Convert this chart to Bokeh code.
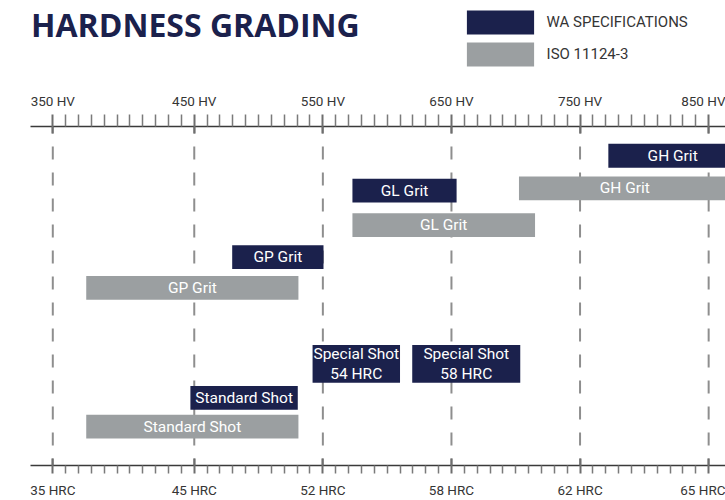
from bokeh.plotting import figure
from bokeh.models import (Range1d, LinearAxis, FixedTicker, Span, ColumnDataSource,
                          Legend, LegendItem)
from bokeh.layouts import column
from bokeh.core.properties import value
from bokeh.embed import file_html
from bokeh.resources import INLINE

# ---------------- data ----------------
title_text = "HARDNESS GRADING"
series_names = ["WA SPECIFICATIONS", "ISO 11124-3"]

# scale positions in minor divisions of the hardness scale
tick_pos = [0, 11, 21, 31, 41, 51]
hv_labels = ["350 HV", "450 HV", "550 HV", "650 HV", "750 HV", "850 HV"]
hrc_labels = ["35 HRC", "45 HRC", "52 HRC", "58 HRC", "62 HRC", "65 HRC"]
minor_pos = [i for i in range(1, 51) if i not in tick_pos]

wa_labels = ["GH Grit", "GL Grit", "GP Grit", "Special Shot\n54 HRC",
             "Special Shot\n58 HRC", "Standard Shot"]
wa_start = [43.2, 23.3, 13.95, 20.2, 27.95, 10.7]
wa_end = [53.2, 31.4, 21.05, 27.0, 36.35, 19.05]

iso_labels = ["GH Grit", "GL Grit", "GP Grit", "Standard Shot"]
iso_start = [36.25, 23.3, 2.6, 2.6]
iso_end = [52.7, 37.5, 19.1, 19.1]

# ---------------- layout (rows, px below the top scale) ----------------
wa_row = [29.5, 64.7, 131.7, 239.5, 239.5, 273.7]
wa_h = [24, 24, 24, 38, 38, 24]
iso_row = [62.5, 99.5, 162.7, 302.7]
iso_h = [24, 24, 24, 24]

NAVY = "#1b214c"
GREY = "#9b9fa1"
TXT = "#353535"

# ---------------- header: title + legend ----------------
header = figure(width=725, height=80, x_range=Range1d(0, 695), y_range=Range1d(80, 0),
                x_axis_location=None, y_axis_location=None, toolbar_location=None,
                output_backend="svg", min_border_left=30, min_border_right=0,
                min_border_top=0, min_border_bottom=0, outline_line_color=None)
header.grid.visible = False
header.text(x=[0.5], y=[24], text=[title_text], text_font=value("Open Sans"),
            text_font_style="bold", text_font_size="32px", text_color=NAVY,
            text_baseline="middle", text_align="left")
# legend swatch proxies (zero-size, outside the visible area)
leg_wa = header.hbar(y=[-10], left=[0], right=[0], height=0, fill_color=NAVY, line_color=None)
leg_iso = header.hbar(y=[-10], left=[0], right=[0], height=0, fill_color=GREY, line_color=None)
legend = Legend(items=[LegendItem(label=series_names[0], renderers=[leg_wa]),
                       LegendItem(label=series_names[1], renderers=[leg_iso])],
                location=(427.6, 11), orientation="vertical",
                glyph_width=84, glyph_height=30, spacing=2, padding=0, margin=0,
                label_standoff=5, label_text_font="Roboto", label_text_font_size="15px",
                label_text_color=TXT, border_line_alpha=0, background_fill_alpha=0)
header.add_layout(legend)

# ---------------- main chart ----------------
p = figure(width=725, height=420, x_range=Range1d(-1.734, 52.31), y_range=Range1d(342, 0),
           x_axis_location=None, y_axis_location=None, toolbar_location=None,
           output_backend="svg", min_border_left=30, min_border_right=0,
           min_border_top=46, min_border_bottom=32, outline_line_color=None)
p.grid.visible = False

for pos in tick_pos:
    p.add_layout(Span(location=pos, dimension="height", line_color="#8e8e8e",
                      line_width=2, line_dash="13 13", line_dash_offset=6,
                      level="underlay"))

iso_src = ColumnDataSource(dict(row=iso_row, h=iso_h, start=iso_start, end=iso_end,
                                label=iso_labels,
                                mid=[(a + b) / 2 for a, b in zip(iso_start, iso_end)]))
wa_src = ColumnDataSource(dict(row=wa_row, h=wa_h, start=wa_start, end=wa_end,
                               label=wa_labels,
                               mid=[(a + b) / 2 for a, b in zip(wa_start, wa_end)]))

p.hbar(y="row", left="start", right="end", height="h", source=iso_src,
       fill_color=GREY, line_color=None)
p.hbar(y="row", left="start", right="end", height="h", source=wa_src,
       fill_color=NAVY, line_color=None)

for src in (iso_src, wa_src):
    p.text(x="mid", y="row", text="label", source=src, text_align="center",
           text_baseline="middle", text_color="white", text_font=value("Roboto"),
           text_font_size="15.5px", text_line_height=1.15)


def make_axis(labels, tick_out, minor_out, standoff):
    ax = LinearAxis(ticker=FixedTicker(ticks=tick_pos, minor_ticks=minor_pos))
    ax.major_label_overrides = {t: l for t, l in zip(tick_pos, labels)}
    ax.axis_line_color = "#3a3a3a"
    ax.axis_line_width = 1.5
    ax.major_tick_line_color = "#6e6e6e"
    ax.major_tick_line_width = 2
    ax.minor_tick_line_color = "#7a7a7a"
    ax.minor_tick_line_width = 1.5
    ax.major_tick_in = 7
    ax.major_tick_out = tick_out
    ax.minor_tick_in = 0
    ax.minor_tick_out = minor_out
    ax.major_label_text_font = "Roboto"
    ax.major_label_text_font_size = "13.5px"
    ax.major_label_text_color = TXT
    ax.major_label_standoff = standoff
    return ax


p.add_layout(make_axis(hv_labels, 12, 12, 6), "above")
p.add_layout(make_axis(hrc_labels, 8, 8, 8), "below")

layout = column(header, p, spacing=0)
open("out.html", "w").write(file_html(layout, INLINE))
